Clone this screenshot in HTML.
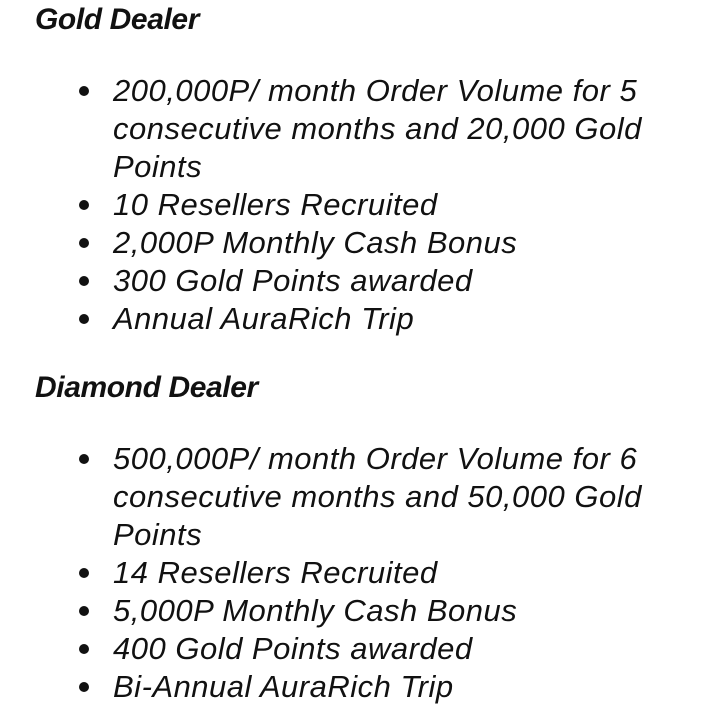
<!DOCTYPE html>
<html><head><meta charset="utf-8"><style>
html,body{margin:0;padding:0;background:#fff;}
body{width:720px;height:722px;position:relative;overflow:hidden;font-family:"Liberation Sans",sans-serif;color:#111;}
.h{position:absolute;left:35px;font-weight:bold;font-style:italic;font-size:30px;line-height:38px;letter-spacing:-0.4px;}
.l{position:absolute;left:113px;font-style:italic;font-size:31px;line-height:38px;white-space:nowrap;letter-spacing:0.5px;}
.b{position:absolute;left:79px;width:10px;height:10px;border-radius:50%;background:#111;}
</style></head><body>
<div class="h" style="top:1px">Gold Dealer</div>
<div>
<div class="b" style="top:86px"></div>
<div class="l" style="top:72px">200,000P/ month Order Volume for 5</div>
<div class="l" style="top:110px">consecutive months and 20,000 Gold</div>
<div class="l" style="top:148px">Points</div>
<div class="b" style="top:200px"></div>
<div class="l" style="top:186px">10 Resellers Recruited</div>
<div class="b" style="top:238px"></div>
<div class="l" style="top:224px">2,000P Monthly Cash Bonus</div>
<div class="b" style="top:276px"></div>
<div class="l" style="top:262px">300 Gold Points awarded</div>
<div class="b" style="top:314px"></div>
<div class="l" style="top:300px">Annual AuraRich Trip</div>
</div>
<div class="h" style="top:369px">Diamond Dealer</div>
<div>
<div class="b" style="top:454px"></div>
<div class="l" style="top:440px">500,000P/ month Order Volume for 6</div>
<div class="l" style="top:478px">consecutive months and 50,000 Gold</div>
<div class="l" style="top:516px">Points</div>
<div class="b" style="top:568px"></div>
<div class="l" style="top:554px">14 Resellers Recruited</div>
<div class="b" style="top:606px"></div>
<div class="l" style="top:592px">5,000P Monthly Cash Bonus</div>
<div class="b" style="top:644px"></div>
<div class="l" style="top:630px">400 Gold Points awarded</div>
<div class="b" style="top:682px"></div>
<div class="l" style="top:668px">Bi-Annual AuraRich Trip</div>
</div>
</body></html>
